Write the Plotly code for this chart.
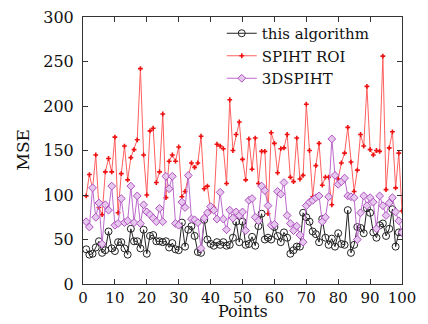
import plotly.graph_objects as go

points = list(range(1, 101))

this_algorithm = [39, 33, 34, 41, 48, 35, 38, 59, 40, 37,
                  47, 47, 40, 33, 62, 48, 48, 40, 61, 34,
                  54, 55, 48, 48, 47, 48, 41, 46, 39, 38,
                  69, 42, 61, 65, 54, 36, 35, 72, 50, 45,
                  43, 47, 44, 47, 43, 44, 52, 70, 47, 70,
                  44, 45, 53, 43, 65, 79, 50, 52, 50, 64,
                  54, 47, 58, 52, 34, 38, 42, 42, 80, 75,
                  70, 59, 56, 47, 73, 52, 44, 51, 42, 57,
                  45, 44, 83, 35, 44, 64, 63, 57, 85, 80,
                  58, 52, 66, 68, 54, 62, 84, 42, 58, 58]

spiht_roi = [99, 123, 107, 145, 86, 78, 126, 141, 126, 165,
             80, 124, 155, 117, 142, 151, 162, 242, 145, 100,
             172, 175, 114, 126, 191, 97, 138, 145, 138, 154,
             98, 104, 120, 136, 131, 136, 166, 107, 110, 82,
             86, 157, 155, 152, 113, 207, 150, 168, 182, 140,
             117, 163, 129, 164, 113, 149, 149, 79, 170, 158,
             125, 152, 153, 168, 120, 115, 164, 118, 122, 202,
             150, 98, 133, 158, 111, 120, 120, 89, 122, 118,
             136, 147, 176, 137, 104, 128, 168, 155, 222, 151,
             145, 150, 149, 256, 106, 153, 171, 108, 147, 82]

spiht_3d = [70, 64, 108, 75, 91, 45, 89, 83, 110, 66,
            68, 96, 69, 71, 110, 69, 99, 68, 89, 81,
            78, 74, 70, 85, 70, 121, 107, 121, 68, 66,
            92, 86, 122, 73, 72, 69, 40, 74, 80, 87,
            83, 73, 103, 73, 61, 83, 74, 81, 77, 81,
            60, 94, 96, 75, 71, 110, 105, 88, 66, 67,
            104, 101, 114, 77, 68, 60, 65, 55, 47, 88,
            92, 94, 97, 99, 70, 75, 98, 163, 122, 112,
            115, 119, 99, 98, 97, 50, 80, 99, 88, 97,
            92, 62, 99, 88, 77, 91, 97, 81, 71, 58]

x_ticks = [0, 10, 20, 30, 40, 50, 60, 70, 80, 90, 100]
y_ticks = [0, 50, 100, 150, 200, 250, 300]
x_title = "Points"
y_title = "MSE"

font_family = "DejaVu Serif, Liberation Serif, serif"

fig = go.Figure()
fig.add_trace(go.Scatter(
    x=points, y=this_algorithm, name="this algorithm", mode="lines+markers",
    line=dict(color="#222222", width=1),
    marker=dict(symbol="circle-open", size=7, color="#222222", line=dict(width=1))))
fig.add_trace(go.Scatter(
    x=points, y=spiht_roi, name="SPIHT ROI", mode="lines+markers",
    line=dict(color="#ff6060", width=1),
    marker=dict(symbol="cross", size=4, color="#ee1111", line=dict(width=0))))
fig.add_trace(go.Scatter(
    x=points, y=spiht_3d, name="3DSPIHT", mode="lines+markers",
    line=dict(color="#bd6acc", width=1),
    marker=dict(symbol="diamond", size=6, color="#e6c8ee",
                line=dict(color="#b050c0", width=1))))

axis_common = dict(
    showline=True, linecolor="#333333", linewidth=1, mirror="ticks",
    ticks="inside", ticklen=5, tickcolor="#333333", showgrid=False,
    zeroline=False, automargin=False, ticklabeloverflow="allow")

fig.update_layout(
    width=420, height=316,
    margin=dict(l=75, r=26, t=9, b=40),
    paper_bgcolor="white", plot_bgcolor="white",
    font=dict(family=font_family, color="#111111"),
    xaxis=dict(range=[0, 100], tickvals=x_ticks, ticktext=[str(v) for v in x_ticks],
               ticklabelstandoff=0,
               tickfont=dict(family=font_family, size=15, color="#111111"),
               **axis_common),
    yaxis=dict(range=[0, 300], tickvals=y_ticks, ticktext=[str(v) for v in y_ticks],
               ticklabelstandoff=5,
               tickfont=dict(family=font_family, size=16, color="#111111"),
               **axis_common),
    legend=dict(x=0.435, y=1.0, xanchor="left", yanchor="top",
                bgcolor="rgba(0,0,0,0)", font=dict(family=font_family, size=15),
                tracegroupgap=0, itemwidth=30),
    showlegend=True,
    annotations=[
        dict(text=x_title, xref="paper", yref="paper", x=0.5, y=0,
             xanchor="center", yanchor="middle", yshift=-27, showarrow=False,
             font=dict(family=font_family, size=16, color="#111111")),
        dict(text=y_title, xref="paper", yref="paper", x=0, y=0.5,
             xanchor="center", yanchor="middle", xshift=-61, textangle=-90,
             showarrow=False, font=dict(family=font_family, size=17, color="#111111")),
    ],
)

fig.write_html("out.html")
